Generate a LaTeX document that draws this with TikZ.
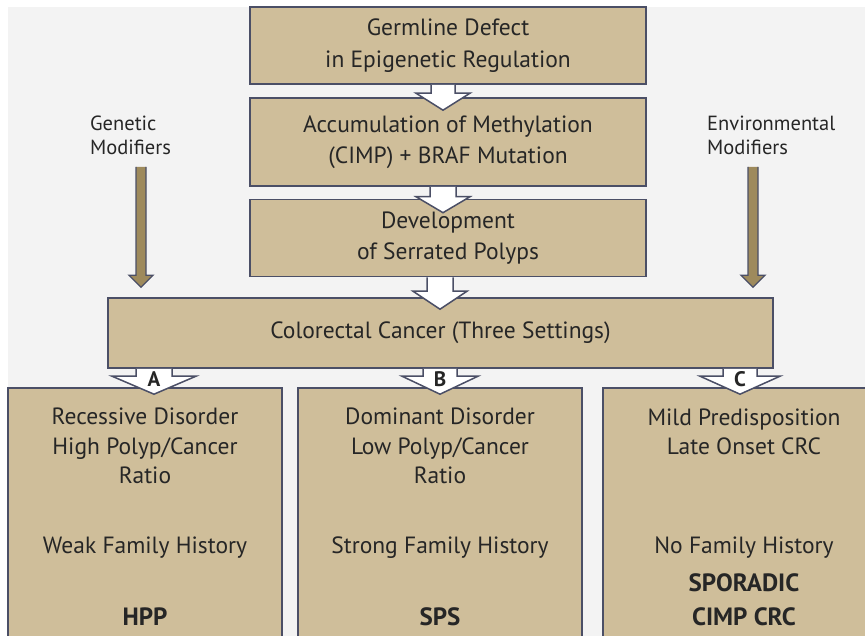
\documentclass[tikz,border=0pt]{standalone}
\usepackage{fontspec}
\setmainfont{PT Sans}
\usetikzlibrary{calc, positioning}
\definecolor{pageGray}{HTML}{F3F3F3}
\definecolor{boxTan}{HTML}{CFBE9A}
\definecolor{edgeSlate}{HTML}{4B4F66}
\definecolor{modBrown}{HTML}{9E8A5C}
\definecolor{inkBlack}{HTML}{262626}

% block arrow: style, x, from, to, shaft half, head half, head length, tip offset
\newcommand{\blockarrow}[8]{%
  \path[#1] let \p1=(#3.south), \p2=(#4.north) in
    (#2pt-#5pt,\y1) -- (#2pt-#5pt,\y2+#8pt+#7pt) -- (#2pt-#6pt,\y2+#8pt+#7pt)
    -- (#2pt,\y2+#8pt) -- (#2pt+#6pt,\y2+#8pt+#7pt) -- (#2pt+#5pt,\y2+#8pt+#7pt)
    -- (#2pt+#5pt,\y1);}

\begin{document}
\begin{tikzpicture}[x=1pt, y=-1pt,
    stage/.style={draw=edgeSlate, line width=1.6pt, fill=boxTan, text=inkBlack,
      align=center, font=\fontsize{23.5}{31.5}\selectfont, inner sep=0pt},
    setting/.style={draw=edgeSlate, line width=1.6pt, fill=boxTan, inner sep=0pt},
    txt/.style={text=inkBlack, align=center, font=\fontsize{23.5}{29.5}\selectfont, inner sep=0pt},
    boldtxt/.style={text=inkBlack, align=center, font=\fontsize{25}{34}\selectfont\bfseries, inner sep=0pt},
    modlabel/.style={text=inkBlack, align=left, font=\fontsize{20.5}{24}\selectfont, inner sep=0pt,
      outer ysep=12pt, anchor=south west},
    hollow/.style={fill=white, draw=edgeSlate, line width=1.5pt, line join=miter},
    modarrow/.style={fill=modBrown, draw=edgeSlate, line width=1.3pt, line join=miter},
    letter/.style={text=inkBlack, font=\fontsize{21}{21}\selectfont\bfseries, inner sep=0pt}]
    \useasboundingbox (0,0) rectangle (865,636);
    \clip (0,0) rectangle (865,636);
    \fill[pageGray] (8,7) rectangle (865,636);

    % upper chain
    \node[stage, minimum width=396pt, minimum height=77pt] (germ) at (448,45.5)
        {Germline Defect\\in Epigenetic Regulation};
    \node[stage, minimum width=396pt, minimum height=88pt] (meth) at (448,142)
        {Accumulation of Methylation\\(CIMP) + BRAF Mutation};
    \node[stage, minimum width=396pt, minimum height=77pt] (polyps) at (448,238)
        {Development\\of Serrated Polyps};
    \node[stage, minimum width=665pt, minimum height=70pt] (crc) at (440.5,333)
        {Colorectal Cancer (Three Settings)};

    % modifiers
    \node[modlabel] (genmod) at (90,167) {Genetic\\Modifiers};
    \node[modlabel] (envmod) at (707,167) {Environmental\\Modifiers};

    % three settings
    \node[setting, minimum width=274pt, minimum height=262pt] (boxA) at (145,519) {};
    \node[setting, minimum width=284pt, minimum height=262pt] (boxB) at (440,519) {};
    \node[setting, minimum width=280pt, minimum height=262pt] (boxC) at (743,519) {};

    \node[txt] (recA) at (145,446) {Recessive Disorder\\High Polyp/Cancer\\Ratio};
    \node[txt] (histA) at (145,548) {Weak Family History};
    \node[boldtxt] (hppA) at (145,617) {HPP};

    \node[txt] (domB) at (440,446) {Dominant Disorder\\Low Polyp/Cancer\\Ratio};
    \node[txt] (histB) at (440,548) {Strong Family History};
    \node[boldtxt] (spsB) at (440,617) {SPS};

    \node[txt] (mildC) at (744,432) {Mild Predisposition\\Late Onset CRC};
    \node[txt] (histC) at (744,548) {No Family History};
    \node[boldtxt] (sporC) at (744,600) {SPORADIC\\CIMP CRC};

    % arrows
    \blockarrow{hollow}{443}{germ}{meth}{12}{27}{17}{-13}
    \blockarrow{hollow}{443}{meth}{polyps}{13}{27}{16}{-14}
    \blockarrow{hollow}{440}{polyps}{crc}{13}{27}{18}{-12}
    \blockarrow{modarrow}{141}{genmod}{crc}{5}{12}{12}{10}
    \blockarrow{modarrow}{753}{envmod}{crc}{5}{12}{12}{10}
    \blockarrow{hollow}{154}{crc}{boxA}{18}{42}{18}{-7}
    \blockarrow{hollow}{440}{crc}{boxB}{17}{38}{18}{-7}
    \blockarrow{hollow}{740}{crc}{boxC}{17}{40}{18}{-7}

    \node[letter] (lblA) at (154,379) {A};
    \node[letter] (lblB) at (440,379) {B};
    \node[letter] (lblC) at (740,379) {C};
\end{tikzpicture}
\end{document}
